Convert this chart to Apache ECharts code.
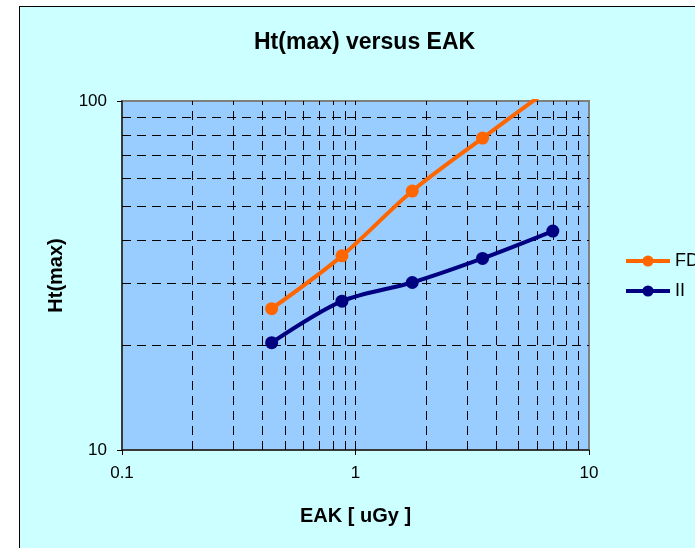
<!DOCTYPE html>
<html><head><meta charset="utf-8">
<script src="https://cdn.jsdelivr.net/npm/echarts@6/dist/echarts.min.js"></script>
<style>
html,body{margin:0;padding:0;background:#fff;width:695px;height:548px;overflow:hidden;}
#frame{position:absolute;left:19px;top:6px;width:700px;height:600px;background:#CCFFFF;border:1px solid #000;}
#chart{position:absolute;left:0;top:0;width:695px;height:548px;}
</style></head><body>
<div id="frame"></div><div id="chart"></div>
<script>
// ---- data ----
const eak = [0.4375, 0.875, 1.75, 3.5, 7];
const fd = [25.4, 36.0, 55.2, 78.3, 110];
const ii = [20.3, 26.7, 30.2, 35.4, 42.4];
const seriesNames = ['FD', 'II'];
const xGridValues = [0.2, 0.3, 0.4, 0.5, 0.6, 0.7, 0.8, 0.9, 1, 2, 3, 4, 5, 6, 7, 8, 9];
const yGridValues = [20, 30, 40, 50, 60, 70, 80, 90];
const xRange = [0.1, 10];
const yRange = [10, 100];

const FONT = 'Liberation Sans, Arial, sans-serif';
const chart = echarts.init(document.getElementById('chart'), null, {renderer: 'canvas'});

const gridLineData = xGridValues.map(v => ({xAxis: v})).concat(yGridValues.map(v => ({yAxis: v})));

chart.setOption({
  backgroundColor: 'transparent',
  animation: false,
  title: {
    text: 'Ht(max) versus EAK',
    left: 249, top: 26,
    textStyle: {fontFamily: FONT, fontSize: 23, fontWeight: 'bold', color: '#000'}
  },
  legend: {
    data: seriesNames,
    orient: 'vertical',
    left: 624, top: 252, padding: 0,
    itemWidth: 44, itemHeight: 14, itemGap: 12,
    lineStyle: {width: 4},
    textStyle: {fontFamily: FONT, fontSize: 18, color: '#000'}
  },
  grid: {
    left: 122, top: 101, width: 467, height: 349,
    show: true, backgroundColor: '#99CCFF', borderColor: '#808080', borderWidth: 2
  },
  xAxis: {
    type: 'log', logBase: 10, min: xRange[0], max: xRange[1],
    name: 'EAK [ uGy ]', nameLocation: 'middle', nameGap: 56,
    nameTextStyle: {fontFamily: FONT, fontSize: 20, fontWeight: 'bold', color: '#000'},
    axisLine: {show: true, lineStyle: {color: '#222', width: 1.5}},
    axisTick: {show: true, length: 5, inside: false, lineStyle: {color: '#000'}},
    axisLabel: {fontFamily: FONT, fontSize: 17, color: '#000', margin: 15},
    splitLine: {show: false}
  },
  yAxis: {
    type: 'log', logBase: 10, min: yRange[0], max: yRange[1],
    name: 'Ht(max)', nameLocation: 'middle', nameGap: 56, nameRotate: 90,
    nameTextStyle: {fontFamily: FONT, fontSize: 20, fontWeight: 'bold', color: '#000'},
    axisLine: {show: true, lineStyle: {color: '#222', width: 1.5}},
    axisTick: {show: true, length: 5, inside: false, lineStyle: {color: '#000'}},
    axisLabel: {fontFamily: FONT, fontSize: 17, color: '#000', margin: 15},
    splitLine: {show: false}
  },
  series: [
    {
      name: 'grid', type: 'line', data: [], z: 1, silent: true,
      markLine: {
        silent: true, z: 1, symbol: ['none', 'none'], label: {show: false},
        lineStyle: {color: '#000', type: [9, 6], width: 1},
        emphasis: {disabled: true},
        data: gridLineData
      }
    },
    {
      name: seriesNames[0], type: 'line', z: 10,
      data: eak.map((x, i) => [x, fd[i]]),
      symbol: 'circle', symbolSize: 13, smooth: 0.3,
      lineStyle: {color: '#FF6600', width: 4},
      itemStyle: {color: '#FF6600'}
    },
    {
      name: seriesNames[1], type: 'line', z: 10,
      data: eak.map((x, i) => [x, ii[i]]),
      symbol: 'circle', symbolSize: 13, smooth: 0.3,
      lineStyle: {color: '#000080', width: 4},
      itemStyle: {color: '#000080'}
    }
  ]
});
</script>
</body></html>
